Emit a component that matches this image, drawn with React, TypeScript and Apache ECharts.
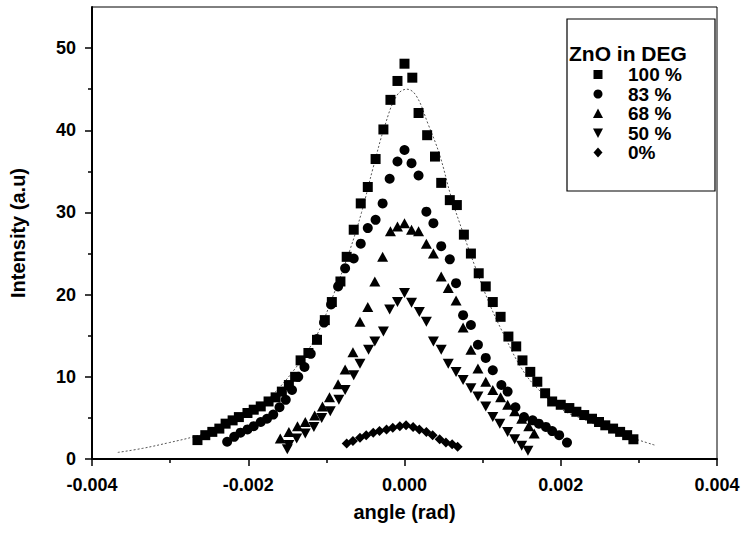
import React, { useEffect, useRef } from "react";
import * as echarts from "echarts";

// ---- data (angle in rad, intensity in a.u.) ----
const zno100: [number, number][] = [
  [-0.00265, 2.3], [-0.00255, 2.9], [-0.00246, 3.3], [-0.00237, 3.7], [-0.00229, 4.3],
  [-0.0022, 4.7], [-0.00212, 5.1], [-0.00201, 5.6], [-0.00193, 6.0], [-0.00184, 6.4],
  [-0.00174, 7.0], [-0.00165, 7.5], [-0.00157, 8.2], [-0.00148, 9.0], [-0.0014, 10.0],
  [-0.00133, 12.0], [-0.00123, 12.9], [-0.00112, 14.5], [-0.00102, 16.9], [-0.00093, 19.1],
  [-0.00082, 21.6], [-0.00074, 24.6], [-0.00065, 27.9], [-0.00056, 31.1], [-0.00047, 33.1],
  [-0.00037, 36.5], [-0.00027, 40.1], [-0.00018, 43.7], [-0.00009, 46.0], [0.0, 48.1],
  [0.0001, 46.4], [0.00018, 42.1], [0.00029, 39.4], [0.00039, 36.8], [0.00047, 33.6],
  [0.00058, 31.5], [0.00067, 30.9], [0.00076, 27.3], [0.00085, 25.0], [0.00095, 22.6],
  [0.00104, 21.0], [0.00113, 19.1], [0.00123, 17.3], [0.00133, 14.9], [0.00143, 13.7],
  [0.00151, 12.0], [0.00161, 10.6], [0.0017, 9.4], [0.0018, 8.0], [0.00189, 7.0],
  [0.002, 6.6], [0.00211, 6.2], [0.0022, 5.75], [0.0023, 5.35], [0.0024, 4.9],
  [0.00249, 4.5], [0.00257, 4.1], [0.00267, 3.7], [0.00276, 3.3], [0.00285, 2.9],
  [0.00293, 2.4],
];

const zno83: [number, number][] = [
  [-0.00227, 2.1], [-0.00218, 2.7], [-0.0021, 3.2], [-0.00201, 3.6], [-0.00193, 4.0],
  [-0.00184, 4.5], [-0.00176, 4.9], [-0.00168, 5.4], [-0.0016, 6.3], [-0.00152, 7.2],
  [-0.00144, 8.4], [-0.00136, 10.0], [-0.00128, 11.2], [-0.0012, 12.8], [-0.00112, 14.6],
  [-0.00103, 16.6], [-0.00094, 18.8], [-0.00085, 21.0], [-0.00076, 23.2], [-0.00065, 24.4],
  [-0.00056, 26.2], [-0.00047, 28.1], [-0.00037, 29.1], [-0.00028, 31.1], [-0.00019, 34.1],
  [-0.00009, 36.2], [0.0, 37.6], [0.00009, 36.0], [0.00018, 34.5], [0.00028, 30.1],
  [0.00037, 28.7], [0.00047, 25.9], [0.00058, 24.3], [0.00066, 21.4], [0.00075, 17.5],
  [0.00085, 16.3], [0.00094, 13.9], [0.00104, 12.3], [0.00113, 10.8], [0.00124, 9.0],
  [0.00132, 8.2], [0.00142, 6.3], [0.00153, 5.1], [0.00164, 4.7], [0.00172, 4.3],
  [0.00181, 3.9], [0.00189, 3.4], [0.00198, 2.9], [0.00208, 2.0],
];

const zno68: [number, number][] = [
  [-0.00159, 2.5], [-0.00148, 3.3], [-0.00137, 4.0], [-0.00127, 4.5], [-0.00115, 5.3],
  [-0.00105, 6.4], [-0.00096, 7.5], [-0.00085, 9.1], [-0.00076, 10.9], [-0.00066, 13.0],
  [-0.00057, 16.7], [-0.00047, 18.5], [-0.00038, 21.6], [-0.00028, 24.6], [-0.00018, 27.7],
  [-0.00009, 28.3], [0.0, 28.7], [0.00009, 27.9], [0.00018, 27.7], [0.00028, 26.2],
  [0.00037, 25.0], [0.00047, 22.2], [0.00056, 20.8], [0.00066, 19.3], [0.00075, 16.0],
  [0.00085, 13.3], [0.00094, 11.0], [0.00104, 9.4], [0.00113, 8.4], [0.00123, 7.5],
  [0.00132, 6.6], [0.00141, 5.8], [0.0015, 4.9], [0.00159, 4.0], [0.00166, 3.1],
];

const zno50: [number, number][] = [
  [-0.0015, 1.2], [-0.00148, 1.7], [-0.00138, 2.5], [-0.00127, 3.1], [-0.00116, 3.9],
  [-0.00106, 5.0], [-0.00095, 5.8], [-0.00084, 7.2], [-0.00076, 8.4], [-0.00065, 10.2],
  [-0.00057, 11.6], [-0.00046, 13.3], [-0.00038, 14.3], [-0.00027, 15.5], [-0.00019, 18.2],
  [-0.00009, 19.1], [0.0, 20.2], [0.00009, 19.0], [0.00019, 17.9], [0.00028, 16.7],
  [0.00037, 14.3], [0.00047, 13.3], [0.00056, 11.6], [0.00066, 10.6], [0.00075, 9.6],
  [0.00085, 8.6], [0.00094, 7.6], [0.00104, 6.4], [0.00113, 5.1], [0.00122, 4.3],
  [0.00132, 3.3], [0.00141, 2.4], [0.0015, 1.6], [0.00158, 1.0],
];

const zno0: [number, number][] = [
  [-0.00074, 1.9], [-0.00066, 2.2], [-0.00057, 2.6], [-0.00049, 2.9], [-0.0004, 3.2],
  [-0.00032, 3.4], [-0.00023, 3.6], [-0.00015, 3.8], [-0.00006, 4.0], [0.00002, 4.1],
  [0.00011, 3.9], [0.00019, 3.6], [0.00028, 3.3], [0.00036, 2.9], [0.00045, 2.4],
  [0.00053, 2.0], [0.00061, 1.8], [0.00068, 1.5],
];

const fitCurve: [number, number][] = [
  [-0.00367, 0.8], [-0.00335, 1.3], [-0.00301, 2.0], [-0.0027, 2.7], [-0.0025, 3.3],
  [-0.0022, 4.5], [-0.002, 5.4], [-0.0018, 6.8], [-0.0016, 8.7], [-0.0014, 11.0],
  [-0.00125, 13.0], [-0.0011, 15.5], [-0.0009, 20.2], [-0.0007, 25.4], [-0.00055, 30.0],
  [-0.0004, 35.5], [-0.00025, 40.6], [-0.0001, 44.2], [0.00003, 45.0], [0.00015, 44.2],
  [0.0003, 40.8], [0.00045, 37.0], [0.0006, 31.8], [0.00075, 27.5], [0.0009, 23.5],
  [0.0011, 18.6], [0.0013, 14.6], [0.0015, 11.0], [0.0017, 8.6], [0.002, 6.1],
  [0.0023, 4.8], [0.0026, 3.6], [0.0029, 2.6], [0.0032, 1.7],
];

const seriesNames = ["100 %", "83 %", "68 %", "50 %", "0%"];
const yTickValues = [0, 10, 20, 30, 40, 50];
const yMinorValues = [5, 15, 25, 35, 45];

const FONT = "'Liberation Sans', Arial, Helvetica, sans-serif";
const INV_TRI = "path://M0,0L10,0L5,9Z";

export default function App() {
  const ref = useRef<HTMLDivElement>(null);

  useEffect(() => {
    if (!ref.current) return;
    const chart = echarts.init(ref.current, undefined, { renderer: "svg" });

    const gridLeft = 89, gridTop = 7, gridRight = 26, gridBottom = 76;

    // legend geometry
    const lgX = 567, lgY = 19, lgW = 148, lgH = 172;
    const symX = 598, txtX = 628;
    const rowY = [74.5, 94, 113.5, 133, 152.5];
    const s = 4.5;
    const legendSymbols: any[] = [
      { type: "rect", shape: { x: symX - s, y: rowY[0] - s, width: 2 * s, height: 2 * s }, style: { fill: "#000" } },
      { type: "circle", shape: { cx: symX, cy: rowY[1], r: s }, style: { fill: "#000" } },
      { type: "polygon", shape: { points: [[symX, rowY[2] - s - 0.5], [symX + s + 0.5, rowY[2] + s], [symX - s - 0.5, rowY[2] + s]] }, style: { fill: "#000" } },
      { type: "polygon", shape: { points: [[symX - s - 0.5, rowY[3] - s], [symX + s + 0.5, rowY[3] - s], [symX, rowY[3] + s + 0.5]] }, style: { fill: "#000" } },
      { type: "polygon", shape: { points: [[symX, rowY[4] - s - 0.5], [symX + s, rowY[4]], [symX, rowY[4] + s + 0.5], [symX - s, rowY[4]]] }, style: { fill: "#000" } },
    ];
    const legendTexts: any[] = seriesNames.map((n, i) => ({
      type: "text",
      x: txtX,
      y: rowY[i],
      style: { text: n, font: `bold 19px ${FONT}`, fill: "#000", textVerticalAlign: "middle", textAlign: "left" },
    }));

    const scatterBase = { type: "scatter", itemStyle: { color: "#000", opacity: 1 }, z: 3 };

    chart.setOption({
      animation: false,
      backgroundColor: "#fff",
      grid: {
        left: gridLeft, top: gridTop, right: gridRight, bottom: gridBottom,
        show: true, borderColor: "#000", borderWidth: 1, backgroundColor: "transparent",
      },
      xAxis: {
        type: "value",
        min: -0.004, max: 0.004, interval: 0.002,
        name: "angle (rad)", nameLocation: "middle", nameGap: 43,
        nameTextStyle: { fontFamily: FONT, fontWeight: "bold", fontSize: 20, color: "#000" },
        axisLine: { onZero: false, lineStyle: { color: "#000", width: 2 } },
        axisTick: { show: true, length: 7, lineStyle: { color: "#000", width: 1.5 } },
        minorTick: { show: true, splitNumber: 2, length: 4, lineStyle: { color: "#000", width: 1.5 } },
        splitLine: { show: false },
        axisLabel: {
          margin: 17,
          fontFamily: FONT, fontWeight: "bold", fontSize: 18, color: "#000",
          formatter: (v: number) => v.toFixed(3),
        },
      },
      yAxis: [
        {
          type: "value",
          min: 0, max: 55, interval: 10,
          name: "Intensity (a.u)", nameLocation: "middle", nameGap: 64,
          nameTextStyle: { fontFamily: FONT, fontWeight: "bold", fontSize: 20, color: "#000" },
          axisLine: { onZero: false, lineStyle: { color: "#000", width: 2 } },
          axisTick: { show: true, length: 7, customValues: yTickValues, lineStyle: { color: "#000", width: 1.5 } },
          splitLine: { show: false },
          axisLabel: {
            margin: 16, customValues: yTickValues,
            fontFamily: FONT, fontWeight: "bold", fontSize: 18, color: "#000",
          },
        },
        {
          type: "value",
          min: 0, max: 55, position: "left", offset: 0,
          axisLine: { show: false, onZero: false },
          axisTick: { show: true, length: 4, customValues: yMinorValues, lineStyle: { color: "#000", width: 1.5 } },
          axisLabel: { show: false },
          splitLine: { show: false },
        },
      ],
      series: [
        {
          type: "line", data: fitCurve, smooth: 0.4, showSymbol: false, symbol: "none", z: 2,
          lineStyle: { color: "#555", width: 1, type: [2, 2] },
        },
        { ...scatterBase, name: seriesNames[0], data: zno100, symbol: "rect", symbolSize: 10 },
        { ...scatterBase, name: seriesNames[1], data: zno83, symbol: "circle", symbolSize: 10 },
        { ...scatterBase, name: seriesNames[2], data: zno68, symbol: "triangle", symbolSize: [11, 10] },
        { ...scatterBase, name: seriesNames[3], data: zno50, symbol: INV_TRI, symbolSize: [11, 10] },
        { ...scatterBase, name: seriesNames[4], data: zno0, symbol: "diamond", symbolSize: 10 },
      ],
      graphic: [
        {
          type: "rect", z: 10,
          shape: { x: lgX, y: lgY, width: lgW, height: lgH },
          style: { fill: "#fff", stroke: "#000", lineWidth: 1.2 },
        },
        {
          type: "text", z: 11, x: lgX + 2, y: 53,
          style: { text: "ZnO in DEG", font: `bold 21px ${FONT}`, fill: "#000", textVerticalAlign: "middle", textAlign: "left" },
        },
        ...legendSymbols.map((e) => ({ ...e, z: 11 })),
        ...legendTexts.map((e) => ({ ...e, z: 11 })),
      ],
    });

    return () => chart.dispose();
  }, []);

  return <div ref={ref} style={{ width: 743, height: 535, position: "absolute", left: 0, top: 0 }} />;
}
